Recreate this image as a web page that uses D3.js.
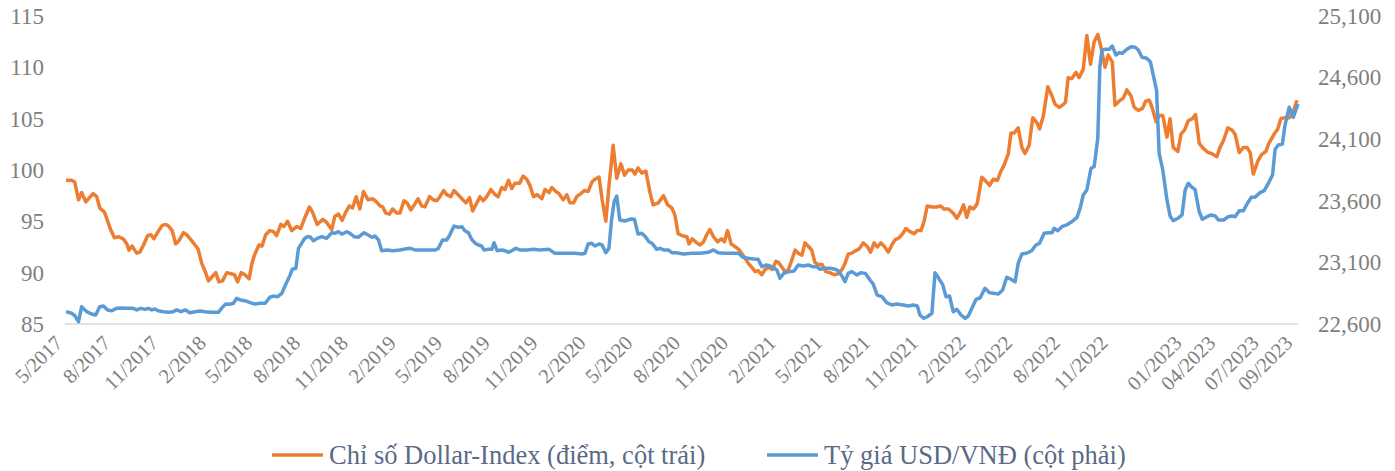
<!DOCTYPE html>
<html>
<head>
<meta charset="utf-8">
<script src="https://cdn.jsdelivr.net/npm/d3@7"></script>
<style>
  body { margin: 0; background: #fff; }
  svg { font-family: "Liberation Serif", "Times New Roman", serif; }
</style>
</head>
<body>
<div id="chart"></div>
<script>
// x values are days counted from 1 May 2017
var dxy = [[0,99.0],[11,99.0],[17,98.8],[24,97.1],[30,97.8],[38,96.9],[52,97.7],[59,97.4],[65,96.3],[74,95.9],[85,94.3],[93,93.4],[101,93.5],[110,93.3],[117,92.8],[121,92.2],[127,92.6],[136,91.9],[142,92.0],[149,92.7],[157,93.6],[163,93.7],[169,93.3],[177,94.0],[185,94.6],[192,94.7],[198,94.5],[204,94.1],[211,92.8],[217,93.1],[226,93.9],[232,93.7],[242,93.1],[248,92.7],[254,92.3],[261,90.9],[267,90.2],[274,89.2],[281,89.6],[288,90.0],[294,89.1],[301,89.2],[309,90.0],[317,89.9],[324,89.8],[330,89.1],[337,90.0],[344,89.8],[352,89.4],[358,91.0],[363,91.8],[371,92.7],[377,92.6],[384,93.7],[392,94.1],[399,94.0],[405,93.6],[413,94.7],[419,94.5],[426,95.0],[434,94.1],[444,94.5],[451,94.3],[458,95.2],[468,96.4],[474,95.9],[483,94.7],[494,95.2],[501,94.9],[511,94.2],[517,95.5],[524,95.7],[531,95.1],[538,95.9],[545,96.5],[551,96.3],[558,97.4],[565,96.2],[572,97.9],[581,97.1],[590,97.2],[597,96.9],[604,96.5],[609,96.4],[615,95.8],[622,95.7],[628,96.2],[636,95.8],[642,95.8],[650,97.0],[656,96.8],[663,96.1],[671,96.7],[677,97.2],[684,96.5],[690,96.4],[699,97.4],[706,97.1],[713,97.0],[719,97.4],[726,98.0],[732,97.6],[740,97.4],[746,98.0],[754,97.6],[763,97.1],[769,96.8],[776,97.3],[782,96.0],[788,96.6],[796,97.4],[802,97.0],[809,97.4],[817,98.1],[825,97.6],[831,97.4],[838,98.3],[844,98.1],[851,99.0],[857,98.2],[863,98.7],[872,98.7],[879,99.4],[886,99.1],[892,98.5],[899,97.4],[906,97.6],[915,97.2],[921,98.1],[929,97.8],[934,98.3],[942,97.9],[948,97.7],[956,97.1],[963,97.6],[969,96.8],[976,96.8],[982,97.4],[990,97.7],[997,98.0],[1004,97.9],[1011,98.8],[1017,99.1],[1025,99.3],[1031,97.1],[1038,95.0],[1044,98.4],[1052,102.4],[1059,99.2],[1067,100.6],[1074,99.5],[1081,100.0],[1089,100.0],[1094,99.6],[1100,100.2],[1107,99.7],[1115,99.9],[1123,97.8],[1129,96.6],[1139,96.8],[1149,97.5],[1157,96.6],[1165,96.3],[1171,95.6],[1177,93.8],[1185,93.6],[1194,93.5],[1198,92.8],[1204,93.3],[1213,92.9],[1219,92.7],[1226,93.0],[1232,93.7],[1238,94.2],[1245,93.5],[1253,93.0],[1260,93.3],[1266,93.0],[1272,94.1],[1279,92.8],[1285,92.6],[1293,92.3],[1299,91.9],[1306,91.4],[1312,90.9],[1319,90.5],[1325,90.1],[1331,90.2],[1338,89.8],[1344,90.3],[1351,90.5],[1358,90.3],[1365,91.1],[1370,91.0],[1377,90.5],[1384,90.0],[1390,90.4],[1402,92.2],[1408,91.9],[1415,91.7],[1421,92.9],[1427,92.6],[1434,92.2],[1440,91.0],[1447,90.8],[1454,90.8],[1461,90.1],[1469,90.0],[1477,89.8],[1485,89.9],[1492,90.3],[1498,90.9],[1504,91.8],[1511,91.9],[1517,92.1],[1525,92.3],[1533,92.9],[1540,92.6],[1547,92.0],[1554,92.9],[1560,92.5],[1567,92.9],[1573,92.6],[1581,92.0],[1588,92.7],[1594,93.2],[1602,93.4],[1609,93.8],[1615,94.3],[1623,94.0],[1631,93.8],[1637,94.1],[1644,94.1],[1650,95.0],[1656,96.5],[1665,96.4],[1674,96.4],[1682,96.5],[1688,96.2],[1697,96.2],[1706,95.8],[1713,95.3],[1719,95.8],[1726,96.6],[1732,95.4],[1738,96.4],[1745,96.2],[1752,96.7],[1761,99.3],[1769,98.9],[1776,98.5],[1783,99.1],[1791,99.0],[1797,99.8],[1804,100.5],[1812,101.6],[1817,103.6],[1823,103.6],[1831,104.1],[1838,102.2],[1844,101.6],[1852,102.4],[1859,105.1],[1867,104.6],[1872,104.0],[1879,105.2],[1888,108.1],[1896,107.2],[1902,106.4],[1910,106.1],[1918,106.4],[1922,106.6],[1927,109.0],[1934,108.9],[1942,109.5],[1948,109.0],[1956,109.8],[1963,113.1],[1970,110.3],[1977,112.5],[1984,113.2],[1990,112.0],[1998,110.0],[2004,111.2],[2012,110.5],[2017,106.3],[2025,106.7],[2033,107.0],[2040,107.8],[2048,107.2],[2054,106.1],[2062,105.8],[2070,106.0],[2076,106.7],[2083,106.8],[2089,106.0],[2096,104.7],[2102,105.3],[2109,105.3],[2117,103.2],[2123,105.0],[2129,102.2],[2138,101.8],[2144,103.5],[2151,103.9],[2158,104.8],[2166,105.0],[2172,105.4],[2179,102.6],[2187,102.1],[2196,101.7],[2203,101.6],[2213,101.3],[2219,102.2],[2226,102.9],[2234,104.1],[2242,103.9],[2248,103.5],[2256,101.7],[2264,102.2],[2271,102.2],[2277,101.7],[2283,99.6],[2292,100.9],[2299,101.5],[2307,101.8],[2313,102.6],[2322,103.4],[2330,104.0],[2336,105.0],[2344,105.1],[2352,105.1],[2358,105.4],[2367,106.8]];

var vnd = [[0,22700],[11,22687],[17,22667],[24,22619],[30,22740],[40,22700],[49,22681],[57,22673],[65,22740],[72,22746],[80,22714],[88,22708],[97,22727],[107,22730],[120,22727],[129,22727],[136,22714],[144,22727],[152,22719],[158,22727],[165,22714],[171,22722],[177,22708],[187,22700],[197,22695],[206,22700],[213,22714],[221,22700],[230,22714],[238,22692],[248,22700],[258,22705],[267,22700],[280,22695],[293,22695],[299,22727],[307,22762],[315,22760],[322,22768],[328,22808],[335,22795],[344,22789],[354,22773],[363,22762],[373,22768],[383,22768],[392,22817],[399,22827],[407,22822],[415,22849],[422,22917],[431,22998],[435,23044],[442,23052],[447,23214],[453,23255],[458,23290],[464,23309],[469,23309],[476,23276],[483,23295],[492,23309],[501,23295],[511,23341],[517,23336],[524,23349],[530,23330],[540,23349],[546,23336],[554,23309],[562,23304],[573,23341],[581,23322],[588,23304],[594,23314],[601,23282],[607,23195],[617,23201],[629,23195],[642,23201],[652,23209],[662,23214],[671,23201],[684,23201],[697,23201],[710,23201],[716,23214],[724,23282],[732,23282],[738,23322],[746,23395],[754,23385],[761,23390],[767,23357],[774,23341],[780,23287],[787,23255],[793,23241],[799,23233],[804,23201],[812,23206],[819,23206],[823,23260],[829,23195],[838,23201],[844,23195],[851,23182],[857,23195],[865,23214],[873,23201],[886,23201],[899,23206],[911,23201],[929,23206],[940,23174],[953,23174],[966,23174],[979,23174],[992,23168],[998,23174],[1004,23249],[1011,23255],[1017,23233],[1025,23249],[1031,23241],[1038,23179],[1044,23214],[1049,23444],[1054,23593],[1059,23639],[1065,23444],[1075,23436],[1085,23452],[1093,23450],[1100,23330],[1107,23336],[1113,23314],[1121,23268],[1127,23255],[1136,23206],[1142,23214],[1149,23201],[1158,23201],[1165,23179],[1174,23179],[1187,23168],[1203,23174],[1219,23174],[1235,23182],[1245,23201],[1254,23179],[1267,23174],[1280,23174],[1293,23174],[1302,23141],[1312,23133],[1322,23128],[1331,23125],[1338,23065],[1347,23079],[1354,23071],[1362,23052],[1367,23038],[1373,22971],[1381,23016],[1392,23025],[1400,23030],[1408,23079],[1418,23071],[1427,23079],[1436,23065],[1444,23065],[1450,23044],[1460,23052],[1469,23052],[1479,23044],[1485,23033],[1492,22990],[1498,22943],[1504,23011],[1511,23025],[1521,22998],[1528,23016],[1537,23011],[1546,22957],[1552,22925],[1560,22835],[1569,22822],[1578,22773],[1588,22754],[1597,22762],[1610,22754],[1620,22746],[1629,22754],[1637,22746],[1642,22673],[1649,22646],[1656,22659],[1665,22687],[1671,23016],[1677,22979],[1686,22917],[1692,22822],[1699,22827],[1706,22700],[1713,22719],[1721,22673],[1729,22646],[1735,22665],[1744,22746],[1750,22800],[1758,22813],[1767,22890],[1776,22854],[1784,22849],[1793,22844],[1801,22876],[1809,22979],[1817,22963],[1825,22943],[1831,23093],[1838,23168],[1847,23174],[1857,23195],[1865,23241],[1872,23255],[1881,23336],[1889,23341],[1896,23341],[1900,23377],[1907,23357],[1915,23390],[1924,23404],[1934,23430],[1944,23466],[1950,23539],[1956,23647],[1963,23688],[1971,23864],[1977,23877],[1984,24107],[1988,24688],[1992,24824],[1999,24830],[2006,24830],[2012,24856],[2019,24783],[2025,24802],[2031,24797],[2040,24830],[2048,24851],[2056,24846],[2062,24824],[2069,24765],[2078,24757],[2085,24729],[2091,24613],[2097,24499],[2102,23986],[2109,23850],[2117,23607],[2123,23477],[2129,23439],[2138,23458],[2146,23485],[2152,23688],[2158,23742],[2165,23710],[2171,23693],[2179,23512],[2185,23450],[2194,23471],[2202,23485],[2210,23477],[2216,23444],[2226,23444],[2235,23471],[2242,23477],[2248,23471],[2256,23520],[2264,23520],[2272,23580],[2279,23628],[2286,23628],[2296,23666],[2304,23682],[2312,23742],[2320,23809],[2325,24018],[2331,24053],[2339,24061],[2344,24215],[2352,24359],[2360,24278],[2369,24386]];

var tickDays = [0,92,184,276,365,457,549,641,730,822,914,1006,1096,1188,1280,1372,1461,1553,1645,1737,1826,1918,2010,2152,2217,2300,2365];
var tickLabels = ["5/2017","8/2017","11/2017","2/2018","5/2018","8/2018","11/2018","2/2019","5/2019","8/2019","11/2019","2/2020","5/2020","8/2020","11/2020","2/2021","5/2021","8/2021","11/2021","2/2022","5/2022","8/2022","11/2022","01/2023","04/2023","07/2023","09/2023"];
var leftTicks = [85,90,95,100,105,110,115];
var rightTicks = [22600,23100,23600,24100,24600,25100];
var seriesNames = ["Chỉ số Dollar-Index (điểm, cột trái)", "Tỷ giá USD/VNĐ (cột phải)"];

var width = 1395, height = 471;
var orange = "#ED7D31", blue = "#5B9BD5", grey = "#808080";

var svg = d3.select("#chart").append("svg")
    .attr("width", width)
    .attr("height", height);

var x = d3.scaleLinear().domain([0, 2369]).range([66, 1298]);
var yL = d3.scaleLinear().domain([85, 115]).range([324, 16]);
var yR = d3.scaleLinear().domain([22600, 25100]).range([324, 16]);

// baseline
svg.append("line")
    .attr("x1", x(0) - 1).attr("x2", x(2369))
    .attr("y1", yL(85)).attr("y2", yL(85))
    .attr("stroke", "#d9d9d9")
    .attr("stroke-width", 1.5);

// left axis
var gl = svg.append("g")
    .attr("transform", "translate(" + x(0) + ",0)")
    .call(d3.axisLeft(yL).tickValues(leftTicks).tickSize(0).tickPadding(22));
gl.attr("font-family", null).attr("font-size", null);
gl.select(".domain").remove();
gl.selectAll("text").attr("font-size", "23px").attr("fill", grey);

// right axis
var gr = svg.append("g")
    .attr("transform", "translate(" + x(2369) + ",0)")
    .call(d3.axisRight(yR).tickValues(rightTicks).tickSize(0).tickPadding(20).tickFormat(d3.format(",")));
gr.attr("font-family", null).attr("font-size", null);
gr.select(".domain").remove();
gr.selectAll("text").attr("font-size", "23px").attr("fill", grey);

// bottom axis, rotated labels
var gx = svg.append("g")
    .attr("transform", "translate(0," + yL(85) + ")")
    .call(d3.axisBottom(x).tickValues(tickDays).tickSize(0)
        .tickFormat(function(d, i) { return tickLabels[i]; }));
gx.attr("font-family", null).attr("font-size", null);
gx.select(".domain").remove();
gx.selectAll("text")
    .attr("font-size", "20.5px")
    .attr("fill", grey)
    .attr("text-anchor", "end")
    .attr("y", 0)
    .attr("dy", "0.71em")
    .attr("transform", "translate(-13,10) rotate(-45)");

// lines
var lineL = d3.line()
    .x(function(d) { return x(d[0]); })
    .y(function(d) { return yL(d[1]); });
var lineR = d3.line()
    .x(function(d) { return x(d[0]); })
    .y(function(d) { return yR(d[1]); });

svg.append("path")
    .attr("d", lineL(dxy))
    .attr("fill", "none")
    .attr("stroke", orange)
    .attr("stroke-width", 3.5)
    .attr("stroke-linejoin", "round");

svg.append("path")
    .attr("d", lineR(vnd))
    .attr("fill", "none")
    .attr("stroke", blue)
    .attr("stroke-width", 3.5)
    .attr("stroke-linejoin", "round");

// legend
var legend = [
    {name: seriesNames[0], color: orange, x: 272},
    {name: seriesNames[1], color: blue, x: 767}
];
var lg = svg.selectAll(".legend")
    .data(legend)
    .enter().append("g")
    .attr("class", "legend")
    .attr("transform", function(d) { return "translate(" + d.x + ",455)"; });
lg.append("line")
    .attr("x1", 0).attr("x2", 51)
    .attr("y1", 0).attr("y2", 0)
    .attr("stroke", function(d) { return d.color; })
    .attr("stroke-width", 3.5);
lg.append("text")
    .attr("x", 57)
    .attr("dy", "0.35em")
    .attr("font-size", "26.5px")
    .attr("fill", "#596a88")
    .text(function(d) { return d.name; });
</script>
</body>
</html>
